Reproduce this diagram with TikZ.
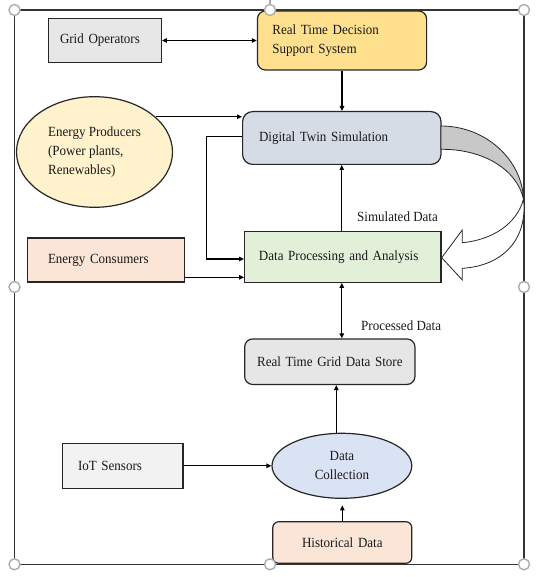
\documentclass[tikz,border=0pt]{standalone}
\usepackage{fontspec}
\setmainfont{Liberation Serif}[FakeStretch=0.93]
\usetikzlibrary{arrows.meta,shapes.geometric}
\definecolor{cgo}{HTML}{E8E7E7}
\definecolor{cdss}{HTML}{FFE08E}
\definecolor{cdt}{HTML}{D6DCE6}
\definecolor{cep}{HTML}{FFF2CC}
\definecolor{cdpa}{HTML}{E2F0D9}
\definecolor{cpeach}{HTML}{FBE5D6}
\definecolor{cstore}{HTML}{E7E6E6}
\definecolor{cdc}{HTML}{DAE3F3}
\definecolor{ciot}{HTML}{F2F2F2}
\definecolor{cband}{HTML}{C8C8C8}
\begin{document}
\begin{tikzpicture}[x=1pt,y=-1pt,
  txt/.style={font=\fontsize{14}{19}\selectfont, text=black!90},
  box/.style={txt, draw=black!85, line width=1.2pt, inner ysep=0pt, align=left},
  rbox/.style={box, rounded corners=8pt},
  ell/.style={txt, ellipse, draw=black!85, line width=1.2pt, inner sep=0pt},
  arr/.style={line width=1.1pt, -{Triangle[length=5pt,width=4.5pt]}},
  darr/.style={line width=1.1pt, {Triangle[length=5pt,width=4.5pt]}-{Triangle[length=5pt,width=4.5pt]}},
  hdl/.style={draw=gray!65, line width=1.4pt, fill=white},
  lbl/.style={txt, anchor=west, inner sep=0pt}
]
\useasboundingbox (0,0) rectangle (538,577);
% frame
\draw[black!80, line width=1.2pt] (14.5,10) rectangle (524,564.3);

% nodes
\node[box, fill=cgo, minimum height=44.4pt, text width=90pt, inner xsep=11.3pt] (go) at (105,40.5) {Grid Operators};
\node[rbox, fill=cdss, minimum height=59pt, text width=139.2pt, inner xsep=15pt] (dss) at (342,40.5) {Real Time Decision\\Support System};
\node[rbox, rounded corners=10pt, fill=cdt, minimum height=52.8pt, text width=165.6pt, inner xsep=16.4pt] (dt) at (341.8,138) {Digital Twin Simulation};
\node[ell, fill=cep, minimum width=156pt, minimum height=110.6pt, align=left] (ep) at (94.5,152) {Energy Producers\\(Power plants,\\Renewables)};
\node[box, fill=cdpa, minimum height=50.6pt, text width=167.7pt, inner xsep=14.3pt] (dpa) at (342.8,257) {Data Processing and Analysis};
\node[box, fill=cpeach, minimum height=44pt, text width=115.8pt, inner xsep=20.5pt] (ec) at (105.9,260) {Energy Consumers};
\node[rbox, fill=cstore, minimum height=45.5pt, text width=150pt, inner xsep=10.15pt, align=center] (store) at (329.8,361.7) {Real Time Grid Data Store};
\node[ell, fill=cdc, minimum width=139.8pt, minimum height=65pt, align=center] (dc) at (341.9,465.8) {Data\\Collection};
\node[box, fill=ciot, minimum height=45pt, text width=89.8pt, inner xsep=15.2pt] (iot) at (122.9,465.8) {IoT Sensors};
\node[rbox, rounded corners=6pt, fill=cpeach, minimum height=41.6pt, text width=119pt, inner xsep=10pt, align=center] (hd) at (342.3,542.5) {Historical Data};

% labels
\node[lbl] (simlbl) at (357,216.7) {Simulated Data};
\node[lbl] (proclbl) at (361,325.7) {Processed Data};

% connectors
\draw[darr] (go.east) -- (go.east -| dss.west);
\draw[arr] (dss.south) -- (dss.south |- dt.north);
\draw[arr] (ep.30) -- (ep.30 -| dt.west);
\draw[arr] ([yshift=1.3pt]dt.west) -- ++(-35.6,0) |- ([yshift=-2pt]dpa.west);
\draw[arr] ([yshift=-17.3pt]ec.east) -- ([yshift=-17.3pt]ec.east -| dpa.west);
\draw[arr] (dpa.north -| dt.south) -- (dt.south);
\draw[darr] (dpa.south -| dt.south) -- (dt.south |- store.north);
\draw[arr] ([xshift=-5.6pt]dc.north) -- ([xshift=-5.6pt]dc.north |- store.south);
\draw[arr] (iot.east) -- (dc.west);
\draw[arr, shorten >=6.5pt] (hd.north) -- (hd.north |- dc.south);

% curved feedback arrow
\draw[black!85, line width=0.8pt, fill=cband]
  (441,126) .. controls (486,126) and (522,160) .. (523.5,199)
  .. controls (517,170) and (484,149) .. (441,149.3) -- cycle;
\draw[black!85, line width=0.8pt, fill=white]
  (523.5,199) .. controls (528,240) and (502,266) .. (462.3,268.3)
  -- (462.3,280) -- (441.7,257.7) -- (462.3,230) -- (462.3,242.7)
  .. controls (492,240) and (517,224) .. (523.5,199) -- cycle;

% selection handles
\draw[gray!65, line width=1.2pt] (270,0) -- (270,5);
\foreach \hx/\hy in {14.5/10, 270/10, 524/10, 14.5/287, 524/287, 14.5/564.3, 270/564.3, 524/564.3}
  \draw[hdl] (\hx,\hy) circle (5.5);
\end{tikzpicture}
\end{document}
